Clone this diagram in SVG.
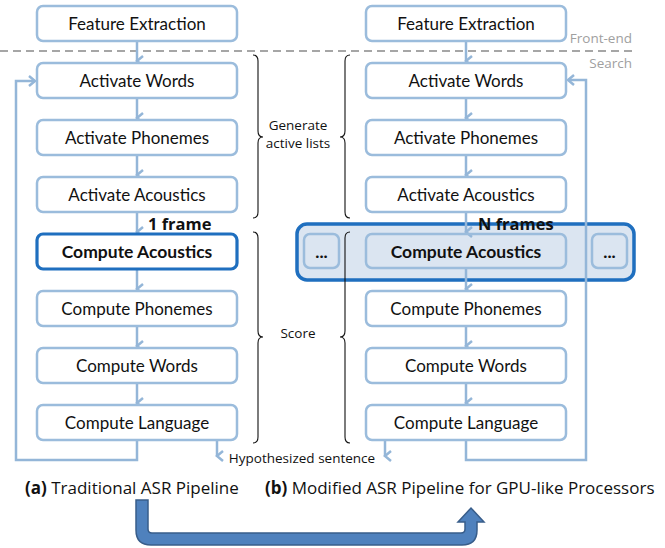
<svg xmlns="http://www.w3.org/2000/svg" width="665" height="548" viewBox="0 0 665 548">
<defs>
<style>
.box{fill:#fff;stroke:#9bbcdc;stroke-width:2.5}
.hl{fill:none;stroke:#9bbcdc;stroke-width:2.5}
.bt{font-family:Lato,"Open Sans",sans-serif;font-size:17px;fill:#111;text-anchor:middle}
.bb{font-family:Lato,"Open Sans",sans-serif;font-size:17.5px;font-weight:bold;fill:#111;text-anchor:middle}
.con{fill:none;stroke:#94b6d8;stroke-width:2.5}
.brace{fill:none;stroke:#111;stroke-width:1.1}
.lbl{font-family:"Open Sans",Lato,sans-serif;font-size:13.5px;fill:#111}
.gray{font-family:"Open Sans",Lato,sans-serif;font-size:13.5px;fill:#a0a0a0;text-anchor:end}
.cap{font-family:"Open Sans",Lato,sans-serif;font-size:17px;fill:#111}
.fr{font-family:"Open Sans",Lato,sans-serif;font-size:16.5px;font-weight:bold;fill:#111}
</style>
<marker id="ah" viewBox="0 0 12 10" refX="6" refY="8" markerWidth="12" markerHeight="10" markerUnits="userSpaceOnUse" orient="auto-start-reverse">
<path d="M1,2 L6,8 L11,2" fill="none" stroke="#94b6d8" stroke-width="2.5"/>
</marker>
<marker id="ahr" viewBox="0 0 10 12" refX="8" refY="6" markerWidth="10" markerHeight="12" markerUnits="userSpaceOnUse" orient="auto">
<path d="M2,1 L8,6 L2,11" fill="none" stroke="#94b6d8" stroke-width="2.5"/>
</marker>
</defs>
<rect width="665" height="548" fill="#fff"/>

<!-- front-end / search divider -->
<line x1="0" y1="51" x2="633" y2="51" stroke="#a6a6a6" stroke-width="2" stroke-dasharray="8,5"/>
<text class="gray" x="632" y="43">Front-end</text>
<text class="gray" x="632" y="68">Search</text>

<!-- highlight for N frames -->
<g id="nframes">
<rect x="297" y="224" width="337" height="56" rx="10" fill="#dbe5f1" stroke="#1f6fbf" stroke-width="3.5"/>
<g id="dotsL"><rect class="hl" x="304" y="234" width="35" height="34" rx="6"/><text class="bb" x="321.5" y="258">...</text></g>
<g id="dotsR"><rect class="hl" x="592" y="234" width="35" height="34" rx="6"/><text class="bb" x="609.5" y="258">...</text></g>
</g>

<!-- connectors -->
<g id="connectors">
<line class="con" x1="137" y1="41" x2="137" y2="61" marker-end="url(#ah)"/>
<line class="con" x1="137" y1="98" x2="137" y2="118" marker-end="url(#ah)"/>
<line class="con" x1="137" y1="155" x2="137" y2="175" marker-end="url(#ah)"/>
<line class="con" x1="137" y1="212" x2="137" y2="232" marker-end="url(#ah)"/>
<line class="con" x1="137" y1="269" x2="137" y2="289" marker-end="url(#ah)"/>
<line class="con" x1="137" y1="326" x2="137" y2="346" marker-end="url(#ah)"/>
<line class="con" x1="137" y1="383" x2="137" y2="403" marker-end="url(#ah)"/>
<polyline class="con" points="137,440 137,460 16,460 16,81 35,81" marker-end="url(#ahr)"/>
<line class="con" x1="217" y1="440" x2="217" y2="456" marker-end="url(#ah)"/>

<line class="con" x1="466" y1="41" x2="466" y2="61" marker-end="url(#ah)"/>
<line class="con" x1="466" y1="98" x2="466" y2="118" marker-end="url(#ah)"/>
<line class="con" x1="466" y1="155" x2="466" y2="175" marker-end="url(#ah)"/>
<line class="con" x1="466" y1="212" x2="466" y2="232" marker-end="url(#ah)"/>
<line class="con" x1="466" y1="269" x2="466" y2="289" marker-end="url(#ah)"/>
<line class="con" x1="466" y1="326" x2="466" y2="346" marker-end="url(#ah)"/>
<line class="con" x1="466" y1="383" x2="466" y2="403" marker-end="url(#ah)"/>
<polyline class="con" points="466,440 466,460 586,460 586,80 568,80" marker-end="url(#ahr)"/>
<line class="con" x1="385" y1="440" x2="385" y2="456" marker-end="url(#ah)"/>
</g>

<!-- left column -->
<g id="L_fe"><rect class="box" x="37" y="6" width="200" height="35" rx="6"/><text class="bt" x="137" y="30">Feature Extraction</text></g>
<g id="L_aw"><rect class="box" x="37" y="63" width="200" height="35" rx="6"/><text class="bt" x="137" y="87">Activate Words</text></g>
<g id="L_ap"><rect class="box" x="37" y="120" width="200" height="35" rx="6"/><text class="bt" x="137" y="144">Activate Phonemes</text></g>
<g id="L_aa"><rect class="box" x="37" y="177" width="200" height="35" rx="6"/><text class="bt" x="137" y="201">Activate Acoustics</text></g>
<g id="L_ca"><rect x="37" y="234" width="200" height="35" rx="6" fill="#fff" stroke="#1f6fbf" stroke-width="3.2"/><text class="bb" x="137" y="258">Compute Acoustics</text></g>
<g id="L_cp"><rect class="box" x="37" y="291" width="200" height="35" rx="6"/><text class="bt" x="137" y="315">Compute Phonemes</text></g>
<g id="L_cw"><rect class="box" x="37" y="348" width="200" height="35" rx="6"/><text class="bt" x="137" y="372">Compute Words</text></g>
<g id="L_cl"><rect class="box" x="37" y="405" width="200" height="35" rx="6"/><text class="bt" x="137" y="429">Compute Language</text></g>

<!-- right column -->
<g id="R_fe"><rect class="box" x="366" y="6" width="200" height="35" rx="6"/><text class="bt" x="466" y="30">Feature Extraction</text></g>
<g id="R_aw"><rect class="box" x="366" y="63" width="200" height="35" rx="6"/><text class="bt" x="466" y="87">Activate Words</text></g>
<g id="R_ap"><rect class="box" x="366" y="120" width="200" height="35" rx="6"/><text class="bt" x="466" y="144">Activate Phonemes</text></g>
<g id="R_aa"><rect class="box" x="366" y="177" width="200" height="35" rx="6"/><text class="bt" x="466" y="201">Activate Acoustics</text></g>
<g id="R_ca"><rect class="hl" x="366" y="234" width="200" height="34" rx="6"/><text class="bb" x="466" y="258">Compute Acoustics</text></g>
<g id="R_cp"><rect class="box" x="366" y="291" width="200" height="35" rx="6"/><text class="bt" x="466" y="315">Compute Phonemes</text></g>
<g id="R_cw"><rect class="box" x="366" y="348" width="200" height="35" rx="6"/><text class="bt" x="466" y="372">Compute Words</text></g>
<g id="R_cl"><rect class="box" x="366" y="405" width="200" height="35" rx="6"/><text class="bt" x="466" y="429">Compute Language</text></g>

<!-- braces -->
<g id="braces">
<path class="brace" d="M253,55 Q258,55 258,61 L258,131 Q258,137 263,137 Q258,137 258,143 L258,212 Q258,218 253,218"/>
<path class="brace" d="M350,55 Q345,55 345,61 L345,131 Q345,137 340,137 Q345,137 345,143 L345,212 Q345,218 350,218"/>
<path class="brace" d="M253,232 Q258,232 258,238 L258,331 Q258,337 263,337 Q258,337 258,343 L258,437 Q258,443 253,443"/>
<path class="brace" d="M350,232 Q345,232 345,238 L345,331 Q345,337 340,337 Q345,337 345,343 L345,437 Q345,443 350,443"/>
</g>
<text class="lbl" x="298" y="130" text-anchor="middle">Generate</text>
<text class="lbl" x="298" y="148" text-anchor="middle">active lists</text>
<text class="lbl" x="298" y="338" text-anchor="middle">Score</text>
<text class="lbl" x="302" y="463" text-anchor="middle">Hypothesized sentence</text>

<text class="fr" x="148" y="230">1 frame</text>
<text class="fr" x="478" y="230">N frames</text>

<!-- captions -->
<text class="cap" x="25" y="494"><tspan font-weight="bold">(a)</tspan> Traditional ASR Pipeline</text>
<text class="cap" x="265" y="494"><tspan font-weight="bold">(b)</tspan> Modified ASR Pipeline for GPU-like Processors</text>

<!-- big arrow -->
<path d="M136,500 L136,530 Q136,545 151,545 L462,545 Q477,545 477,530 L477,522 L484,522 L471,508 L458,522 L465,522 L465,529 Q465,533 461,533 L152,533 Q148,533 148,529 L148,500 Z" fill="#4f81bd" stroke="#385d8a" stroke-width="1.5"/>
</svg>
